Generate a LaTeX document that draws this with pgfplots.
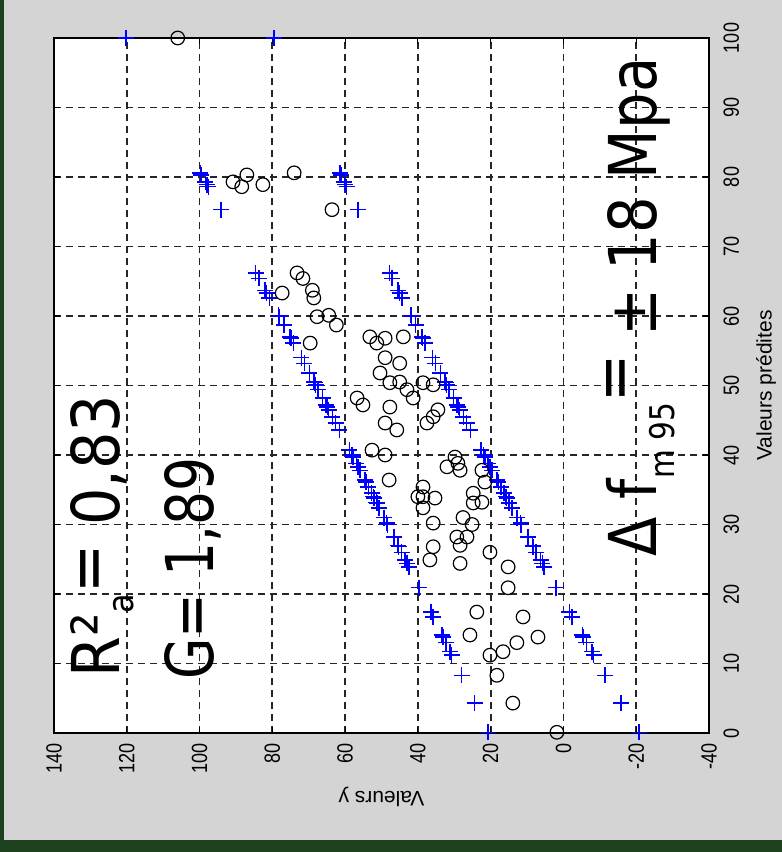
\documentclass[border=0pt]{standalone}
\usepackage{graphicx}
\usepackage{fontspec}
\usepackage{pgfplots}
\pgfplotsset{compat=1.18}
\setmainfont{Liberation Sans}
\newfontfamily\hand{DejaVu Sans}
\newfontfamily\mat[FakeStretch=0.82]{Liberation Sans}
\definecolor{cadre}{HTML}{1D401D}
\definecolor{fond}{HTML}{D4D4D4}
\definecolor{bleu}{HTML}{0000FF}

% bornes de l'intervalle (+) : valeur predite, borne
\pgfplotstableread{
pred val
0.1 20.7
0.1 -20.7
4.3 24.4
4.3 -15.8
8.3 28.0
8.3 -11.4
11.2 30.7
11.2 -8.3
11.7 31.2
11.7 -7.8
13.0 32.3
13.0 -6.3
13.8 33.1
13.8 -5.5
14.1 33.4
14.1 -5.2
16.7 35.8
16.7 -2.4
17.4 36.4
17.4 -1.6
20.9 39.7
20.9 2.1
23.9 42.5
23.9 5.3
24.4 43.0
24.4 5.8
24.9 43.5
24.9 6.3
26.0 44.5
26.0 7.5
26.8 45.3
26.8 8.3
27.0 45.5
27.0 8.5
28.2 46.6
28.2 9.8
30.0 48.4
30.0 11.6
30.2 48.6
30.2 11.8
31.0 49.3
31.0 12.7
32.4 50.7
32.4 14.1
33.1 51.3
33.1 14.9
33.2 51.4
33.2 15.0
33.8 52.0
33.8 15.6
34.0 52.2
34.0 15.8
34.5 52.7
34.5 16.3
35.4 53.6
35.4 17.2
36.1 54.3
36.1 17.9
36.4 54.6
36.4 18.2
37.8 55.9
37.8 19.7
38.3 56.4
38.3 20.2
38.8 56.9
38.8 20.7
39.7 57.8
39.7 21.6
40.0 58.1
40.0 21.9
40.7 58.8
40.7 22.6
43.6 61.6
43.6 25.6
44.6 62.6
44.6 26.6
45.5 63.5
45.5 27.5
46.5 64.5
46.5 28.5
46.9 64.9
46.9 28.9
47.2 65.2
47.2 29.2
48.2 66.2
48.2 30.2
49.4 67.4
49.4 31.4
50.1 68.1
50.1 32.1
50.4 68.4
50.4 32.4
50.5 68.5
50.5 32.5
51.8 69.8
51.8 33.8
53.2 71.2
53.2 35.2
54.0 72.0
54.0 36.0
56.1 74.2
56.1 38.0
56.8 74.9
56.8 38.7
57.0 75.1
57.0 38.9
58.7 76.8
58.7 40.6
59.9 78.1
59.9 41.7
60.1 78.3
60.1 41.9
62.6 80.8
62.6 44.4
63.3 81.6
63.3 45.0
63.7 82.0
63.7 45.4
65.4 83.7
65.4 47.1
66.2 84.6
66.2 47.8
75.3 94.1
75.3 56.5
78.6 97.6
78.6 59.6
78.9 97.9
78.9 59.9
79.3 98.4
79.3 60.2
80.3 99.5
80.3 61.1
80.6 99.8
80.6 61.4
100 120.2
100 79.5
}\bandes

% mesures (o) : valeur predite, valeur y
\pgfplotstableread{
pred val
100 106
80.3 87.0
78.6 88.4
79.3 90.8
78.9 82.6
80.6 74.0
75.3 63.6
66.2 73.2
65.4 71.6
63.3 77.3
63.7 69.0
62.6 68.6
59.9 67.7
60.1 64.5
58.7 62.4
56.1 69.6
57.0 53.2
56.1 51.3
56.8 49.0
57.0 44.0
54.0 49.0
53.2 45.0
51.8 50.4
50.4 47.7
50.5 45.0
49.4 43.0
48.2 41.3
50.4 38.6
50.1 35.8
48.2 56.7
47.2 55.1
46.9 47.7
44.6 49.0
43.6 45.8
44.6 37.5
45.5 35.8
46.5 34.5
40.7 52.6
40.0 49.0
39.7 29.8
38.8 29.0
38.3 32.0
37.8 28.4
36.4 47.9
35.4 38.6
34.0 40.0
34.0 38.6
33.8 35.3
32.4 38.6
30.2 35.8
37.8 22.4
36.1 21.6
34.5 24.8
33.2 22.4
33.1 24.8
31.0 27.6
30.0 25.1
28.2 29.3
28.2 26.5
27.0 28.4
26.8 35.8
24.9 36.7
24.4 28.4
26.0 20.2
23.9 15.2
20.9 15.2
17.4 23.8
16.7 11.1
14.1 25.7
13.0 12.8
11.7 16.6
11.2 20.2
13.8 7.0
8.3 18.3
4.3 13.9
0.1 1.8
}\mesures

\begin{document}
\begin{tikzpicture}
  \useasboundingbox (0,0) rectangle (391pt,426pt);
  \fill[cadre] (0,0) rectangle (391pt,426pt);
  \fill[fond] (2pt,6pt) rectangle (391pt,426pt);
  \begin{axis}[
    at={(27pt,59.5pt)},
    anchor=south west,
    scale only axis,
    width=327.5pt,
    height=347.5pt,
    x dir=reverse,
    xmin=-40, xmax=140,
    ymin=0, ymax=100,
    xtick={-40,-20,...,140},
    ytick={0,10,...,100},
    yticklabel pos=right,
    grid=major,
    grid style={black!85, line width=0.9pt, dash pattern=on 3.5pt off 2.5pt},
    axis line style={black, line width=0.8pt},
    tick align=inside,
    major tick length=3pt,
    tick style={black, line width=0.6pt},
    axis background/.style={fill=white},
    /pgf/number format/assume math mode=true,
    tick label style={font=\mat\fontsize{11}{13}\selectfont},
    xticklabel style={yshift=-5pt, rotate=90, anchor=east, inner sep=0pt},
    yticklabel style={xshift=7pt, rotate=90, anchor=north, inner sep=0pt},
    clip=false,
  ]
    \addplot[only marks, mark=+, mark size=4pt, bleu,
      mark options={draw=bleu, line width=0.75pt}] table[x=val, y=pred] {\bandes};
    \addplot[only marks, mark=o, mark size=3.4pt, black,
      mark options={line width=0.6pt}] table[x=val, y=pred] {\mesures};
  \end{axis}
  \node[rotate=90, font=\fontsize{10.5}{12}\selectfont] at (383pt,233.25pt) {Valeurs prédites};
  \node[rotate=180, font=\fontsize{10.5}{12}\selectfont] at (190.75pt,27.5pt) {Valeurs y};
  \node[rotate=90, anchor=base west, inner sep=0, font=\hand\fontsize{33}{36}\selectfont]
    at (60pt,87pt) {\scalebox{0.89}[1]{R²\raisebox{-0.2em}{\fontsize{18}{18}\selectfont a}\raisebox{0.15em}{=} 0,83}};
  \node[rotate=90, anchor=base west, inner sep=0, font=\hand\fontsize{33}{36}\selectfont]
    at (106.5pt,86pt) {\scalebox{0.81}[1]{G= 1,89}};
  \node[rotate=90, anchor=base west, inner sep=0, font=\hand\fontsize{33}{36}\selectfont]
    at (328pt,147.5pt) {\scalebox{0.87}[1]{Δ f\raisebox{-0.28em}{\fontsize{17}{17}\selectfont m 95}\raisebox{0.3em}{=} ± 18 Mpa}};
\end{tikzpicture}
\end{document}
